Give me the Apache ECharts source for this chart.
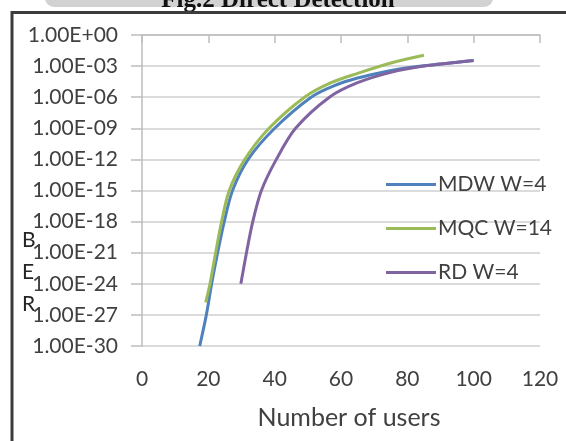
<!DOCTYPE html>
<html>
<head>
<meta charset="utf-8">
<script src="https://cdn.jsdelivr.net/npm/echarts@6/dist/echarts.min.js"></script>
<style>
  html, body { margin: 0; padding: 0; background: #ffffff; }
  #chart { width: 566px; height: 441px; }
</style>
</head>
<body>
<div id="chart"></div>
<script>
// BER versus number of active users for three code families
const seriesNames = ['MDW W=4', 'MQC W=14', 'RD W=4'];

const mdwUsers = [17.4, 19.4, 21, 22.8, 24.8, 27.3, 32, 40, 51, 58, 65, 74, 80, 90, 100];
const mdwBer   = [1e-30, 1e-27, 1e-24, 1e-21, 1e-18, 1e-15, 1e-12, 1e-9, 1e-6, 1.3e-5, 7e-5, 3.2e-4, 7e-4, 1.6e-3, 3.5e-3];

const mqcUsers = [19.2, 20.5, 22.2, 24, 26.3, 31, 38.3, 49, 57, 65, 75, 85];
const mqcBer   = [1.6e-26, 1e-24, 1e-21, 1e-18, 1e-15, 1e-12, 1e-9, 1e-6, 2.5e-5, 2e-4, 2e-3, 1.1e-2];

const rdUsers  = [29.8, 31.5, 33.4, 36, 40.5, 46.3, 56.5, 65, 75, 85, 100];
const rdBer    = [1e-24, 1e-21, 1e-18, 1e-15, 1e-12, 1e-9, 1e-6, 2.5e-5, 2.5e-4, 1e-3, 3.5e-3];

const xTicks = [0, 20, 40, 60, 80, 100, 120];
// BER axis runs in decades: 1E-30 .. 1E+00, labelled every third decade
const berDecadeMin = -30;
const berDecadeMax = 0;
const berDecadeStep = 3;

const colors = ['#4F81BD', '#9BBB59', '#8064A2'];

const FONT = 'Lato, "Liberation Sans", sans-serif';
const LABEL_COLOR = '#404040';

// the BER axis is logarithmic: points are placed by their decade
function pairs(xs, ys) {
  return xs.map((x, i) => [x, Math.log10(ys[i])]);
}

// 1.00E-03 style labels, two-digit exponent with sign
function sciLabel(e) {
  const k = Math.round(e);
  const sign = k < 0 ? '-' : '+';
  const mag = String(Math.abs(k)).padStart(2, '0');
  return '1.00E' + sign + mag;
}

const chart = echarts.init(document.getElementById('chart'), null, { renderer: 'canvas' });

const option = {
  backgroundColor: '#ffffff',
  animation: false,
  color: colors,
  grid: { left: 142, right: 26, top: 35, bottom: 95, containLabel: false },
  legend: {
    orient: 'vertical',
    left: 381,
    top: 169,
    itemWidth: 50,
    itemHeight: 3,
    itemGap: 23,
    icon: 'rect',
    textStyle: { fontFamily: FONT, fontSize: 21, color: LABEL_COLOR, padding: [0, 0, 0, -3] },
    data: seriesNames
  },
  xAxis: [
    {
      type: 'value',
      position: 'bottom',
      min: xTicks[0],
      max: xTicks[xTicks.length - 1],
      interval: 20,
      axisLine: { show: false },
      axisTick: { show: false },
      splitLine: { show: false },
      axisLabel: { fontFamily: FONT, fontSize: 21, color: LABEL_COLOR, margin: 23 },
      name: 'Number of users',
      nameLocation: 'middle',
      nameGap: 59,
      nameTextStyle: { fontFamily: FONT, fontSize: 25, color: LABEL_COLOR, padding: [0, 0, 0, 16] }
    },
    {
      type: 'value',
      position: 'top',
      min: xTicks[0],
      max: xTicks[xTicks.length - 1],
      interval: 20,
      axisLine: { show: true, lineStyle: { color: '#bdbdbd', width: 1.5 } },
      axisTick: { show: true, inside: true, length: 8, lineStyle: { color: '#bdbdbd', width: 1.5 } },
      axisLabel: { show: false },
      splitLine: { show: false }
    }
  ],
  yAxis: {
    type: 'value',
    min: berDecadeMin,
    max: berDecadeMax,
    interval: berDecadeStep,
    axisLine: { show: true, lineStyle: { color: '#bdbdbd', width: 1.5 } },
    axisTick: { show: true, length: 11, lineStyle: { color: '#bdbdbd', width: 1.5 } },
    splitLine: { show: true, lineStyle: { color: '#cfcfcf', width: 1.5 } },
    axisLabel: {
      fontFamily: FONT, fontSize: 21, color: LABEL_COLOR, margin: 24,
      formatter: sciLabel
    }
  },
  series: [
    { name: seriesNames[0], data: pairs(mdwUsers, mdwBer) },
    { name: seriesNames[1], data: pairs(mqcUsers, mqcBer) },
    { name: seriesNames[2], data: pairs(rdUsers, rdBer) }
  ].map((s, i) => Object.assign({
    type: 'line',
    xAxisIndex: 0,
    smooth: 0.3,
    showSymbol: false,
    symbol: 'none',
    lineStyle: { width: 3, color: colors[i] },
    itemStyle: { color: colors[i] }
  }, s)),
  graphic: [
    // page band and caption above the frame
    {
      type: 'rect',
      shape: { x: 45, y: -20, width: 448, height: 27, r: 9 },
      style: { fill: '#d2d2d2' },
      silent: true
    },
    {
      type: 'text',
      style: {
        text: 'Fig.2 Direct Detection',
        x: 278, y: 13,
        align: 'center', verticalAlign: 'bottom',
        font: 'bold 25px "Liberation Serif", serif',
        fill: '#111111'
      },
      silent: true
    },
    // chart frame
    {
      type: 'polyline',
      shape: { points: [[12, 445], [12, 12.5], [570, 12.5]] },
      style: { stroke: '#3c3c3c', lineWidth: 3, fill: null },
      silent: true
    },
    // stacked axis title
    {
      type: 'text',
      style: {
        text: 'B\nE\nR',
        x: 22, y: 224,
        lineHeight: 32,
        font: '21px ' + FONT,
        fill: '#262626'
      },
      silent: true
    }
  ]
};

chart.setOption(option);
</script>
</body>
</html>
